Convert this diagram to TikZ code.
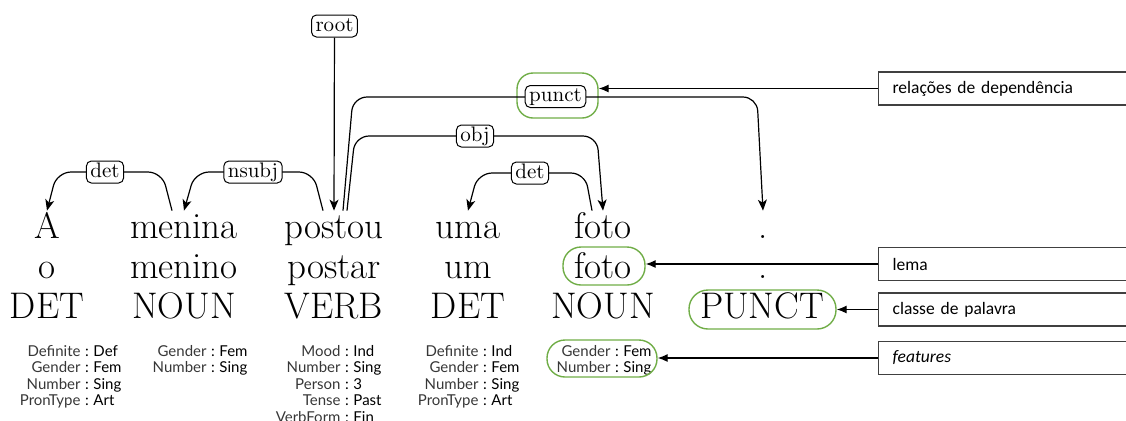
\documentclass[tikz,border=0pt]{standalone}
\usepackage{fontspec}
\usetikzlibrary{arrows.meta,calc}
\newfontfamily\latofont{Lato}
\newfontfamily\calfont{Carlito}
\definecolor{hlgreen}{RGB}{112,173,71}
\definecolor{keygray}{RGB}{55,55,55}
\definecolor{boxgray}{RGB}{64,64,64}
\newcommand{\featrow}[2]{\llap{\textcolor{keygray}{#1}\hspace{2.3pt}}:\rlap{\hspace{2.3pt}#2}}
\tikzset{
  word/.style={font=\fontsize{18.5}{20}\selectfont, inner xsep=0pt, inner ysep=1pt, text height=12.5pt, text depth=0pt, anchor=base},
  deplabel/.style={draw, rounded corners=2.5pt, fill=white, font=\fontsize{10.5}{12}\selectfont, inner xsep=2pt, inner ysep=1pt, line width=0.5pt, text height=7pt, text depth=2pt},
  dep/.style={line width=0.6pt, rounded corners=7pt, -{Stealth[length=5.5pt,width=4.5pt,inset=1.5pt]}},
  feat/.style={font=\latofont\fontsize{7.5}{8.25}\selectfont, anchor=base, inner sep=0pt},
  greenbox/.style={draw=hlgreen, line width=0.7pt},
  rbox/.style={draw=boxgray, line width=0.6pt, anchor=west, minimum width=135pt, minimum height=16.5pt, text width=121pt, inner xsep=7pt, align=left, font=\calfont\fontsize{8.75}{10}\selectfont},
  rarrow/.style={draw=black, line width=0.6pt, -{Latex[length=5pt,width=4pt]}}
}
\begin{document}
\begin{tikzpicture}[x=0.5pt,y=-0.5pt]
\useasboundingbox (0,0) rectangle (1126,420);
\clip (0,0) rectangle (1126,420);
% forms
\node[word] (f1) at (47,238) {A};
\node[word] (f2) at (184,238) {menina};
\node[word] (f3) at (334,238) {postou};
\node[word] (f4) at (468,238) {uma};
\node[word] (f5) at (603,238) {foto};
\node[word] (f6) at (763,238) {.};
% lemmas
\node[word] (l1) at (47,278) {o};
\node[word] (l2) at (184,278) {menino};
\node[word] (l3) at (334,278) {postar};
\node[word] (l4) at (468,278) {um};
\node[word] (l5) at (603,278) {foto};
\node[word] (l6) at (763,278) {.};
% pos
\node[word] (p1) at (47,318) {DET};
\node[word] (p2) at (184,318) {NOUN};
\node[word] (p3) at (334,318) {VERB};
\node[word] (p4) at (468,318) {DET};
\node[word] (p5) at (603,318) {NOUN};
\node[word] (p6) at (762,318) {PUNCT};
% features
\node[feat] (ft1) at (87,356) {\begin{tabular}[t]{@{}c@{}}\featrow{Definite}{Def}\\\featrow{Gender}{Fem}\\\featrow{Number}{Sing}\\\featrow{PronType}{Art}\end{tabular}};
\node[feat] (ft2) at (213,356) {\begin{tabular}[t]{@{}c@{}}\featrow{Gender}{Fem}\\\featrow{Number}{Sing}\end{tabular}};
\node[feat] (ft3) at (347,356) {\begin{tabular}[t]{@{}c@{}}\featrow{Mood}{Ind}\\\featrow{Number}{Sing}\\\featrow{Person}{3}\\\featrow{Tense}{Past}\\\featrow{VerbForm}{Fin}\end{tabular}};
\node[feat] (ft4) at (485,356) {\begin{tabular}[t]{@{}c@{}}\featrow{Definite}{Ind}\\\featrow{Gender}{Fem}\\\featrow{Number}{Sing}\\\featrow{PronType}{Art}\end{tabular}};
\node[feat] (ft5) at (617,356) {\begin{tabular}[t]{@{}c@{}}\featrow{Gender}{Fem}\\\featrow{Number}{Sing}\end{tabular}};
% green highlights
\node[greenbox, rounded corners=8pt, minimum width=40.5pt, minimum height=22.5pt] (gpunct) at (557.5,95.5) {};
\node[greenbox, rounded corners=9pt, minimum width=41pt, minimum height=19pt] (glema) at (604,266) {};
\node[greenbox, rounded corners=9.5pt, minimum width=73.5pt, minimum height=19.5pt] (gpos) at (762.5,309.5) {};
\node[greenbox, rounded corners=9pt, minimum width=55pt, minimum height=18.5pt] (gfeat) at (602,358.5) {};
% dependency edges
\node[deplabel] (lroot) at (334.5,26) {root};
\draw[dep] (lroot) -- (f3.north);
\draw[dep] ($(f2.north)+(-12,0)$) -- (162,172) -- (57,172) -- (f1.north);
\draw[dep] ($(f3.north)+(-11,0)$) -- (313,172) -- (195,172) -- (f2.north);
\draw[dep] ($(f3.north)+(13,0)$) -- (355,136) -- (597,136) -- (f5.north);
\draw[dep] ($(f3.north)+(9,0)$) -- (353,97) -- (757,97) -- (f6.north);
\draw[dep] ($(f5.north)+(-11,0)$) -- (585,173) -- (478,173) -- (f4.north);
\node[deplabel] (ldet1) at (105,172) {det};
\node[deplabel] (lnsubj) at (253,172) {nsubj};
\node[deplabel] (lobj) at (475,136) {obj};
\node[deplabel] (lpunct) at (555.5,96.5) {punct};
\node[deplabel] (ldet2) at (530,173) {det};
% right legend boxes
\node[rbox] (r1) at (878,88.5) {relações de dependência};
\node[rbox] (r2) at (878,264) {lema};
\node[rbox] (r3) at (878,309.5) {classe de palavra};
\node[rbox] (r4) at (878,358) {\itshape features};
\draw[rarrow] (r1.west) -- (r1.west -| gpunct.east);
\draw[rarrow] (r2.west) -- (r2.west -| glema.east);
\draw[rarrow] (r3.west) -- (r3.west -| gpos.east);
\draw[rarrow] (r4.west) -- (r4.west -| gfeat.east);
\end{tikzpicture}
\end{document}
